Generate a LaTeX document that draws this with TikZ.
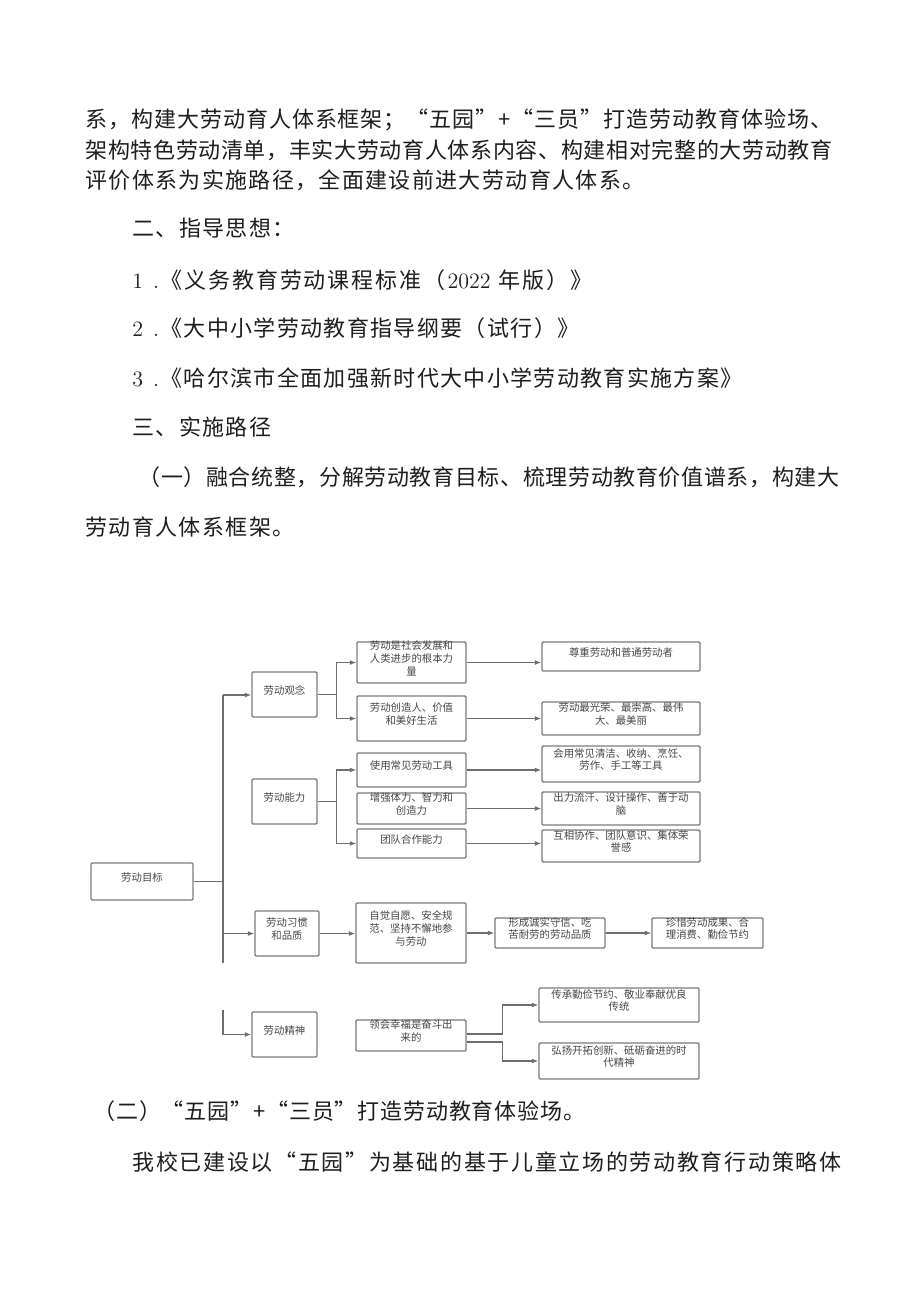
\documentclass[tikz,border=0pt]{standalone}
\usepackage{fontspec}
\newfontfamily\cjk{Noto Sans CJK SC}
\usetikzlibrary{arrows.meta,fit}
\newdimen\px \px=0.5pt
\def\endmark{\end}
\def\sprA#1{#1\sprB}
\def\sprB#1{\def\tmparg{#1}\ifx\tmparg\endmark\else\hfill#1\expandafter\sprB\fi}
\newcommand\bodyf{\cjk\fontsize{11pt}{13pt}\selectfont}
\newcommand\boxf{\cjk\fontsize{5.2pt}{6.4pt}\selectfont}
\newcommand\numf{\rmfamily\fontsize{11pt}{13pt}\selectfont}
\definecolor{boxgray}{HTML}{7C7C7C}
\definecolor{linegray}{HTML}{6E6E6E}
\definecolor{txtgray}{HTML}{464646}
\definecolor{bodyblack}{HTML}{1E1E1E}
\newcommand\tl[5]{\node[anchor=west,inner sep=0pt,text=bodyblack] (#1) at (#2,#3) {\bodyf\makebox[#4\px][s]{\sprA#5\end}};}
\newcommand\nl[4]{\node[anchor=base west,inner sep=0pt,text=bodyblack] (#1) at (#2,#3) {\numf #4};}
\tikzset{
  box/.style={draw=boxgray, line width=0.7pt, rounded corners=0.6pt, inner sep=0pt, align=center, font=\boxf, text=txtgray},
  ln/.style={draw=linegray, line width=0.55pt},
  arr/.style={ln, -{Latex[length=3.2pt,width=2.4pt]}}
}
\begin{document}
\begin{tikzpicture}[x=0.5pt,y=-0.5pt]
\useasboundingbox[fill=white] (0,0) rectangle (920,1301);
% body text
\tl{t1}{85}{120}{747}{系，构建大劳动育人体系框架；“五园”+“三员”打造劳动教育体验场、}
\tl{t2}{85}{150}{747}{架构特色劳动清单，丰实大劳动育人体系内容、构建相对完整的大劳动教育}
\tl{t3}{85}{180}{559}{评价体系为实施路径，全面建设前进大劳动育人体系。}
\tl{t4}{132}{228}{162}{二、指导思想：}
\nl{n1}{132}{288}{1\hspace{5pt}.}
\tl{t5}{160}{280}{432}{《义务教育劳动课程标准（{{\numf 2022\hspace{3pt}}}年版）》}
\nl{n2}{132}{336}{2\hspace{5pt}.}
\tl{t6}{160}{328}{419}{《大中小学劳动教育指导纲要（试行）》}
\nl{n3}{132}{386}{3\hspace{5pt}.}
\tl{t7}{160}{378}{582}{《哈尔滨市全面加强新时代大中小学劳动教育实施方案》}
\tl{t8}{132}{427}{139}{三、实施路径}
\tl{t9}{138}{477}{701}{（一）融合统整，分解劳动教育目标、梳理劳动教育价值谱系，构建大}
\tl{t10}{85}{527}{209}{劳动育人体系框架。}
\tl{t11}{93}{1111}{492}{（二）“五园”+“三员”打造劳动教育体验场。}
\tl{t12}{132}{1162}{709}{我校已建设以“五园”为基础的基于儿童立场的劳动教育行动策略体}
% diagram boxes
\node[box, fit={(91,863) (193,900)}] (goal) {劳动目标};
\node[box, fit={(252,672) (317,717)}] (gn) {劳动观念};
\node[box, fit={(252,779) (317,824)}] (nl) {劳动能力};
\node[box, fit={(255,911) (319,956)}] (xg) {劳动习惯\\和品质};
\node[box, fit={(252,1012) (317,1057)}] (js) {劳动精神};
\node[box, fit={(357,642) (466,683)}] (A1) {劳动是社会发展和\\人类进步的根本力\\量};
\node[box, fit={(357,696) (466,741)}] (A2) {劳动创造人、价值\\和美好生活};
\node[box, fit={(357,753) (466,787)}] (B1) {使用常见劳动工具};
\node[box, fit={(357,793) (466,824)}] (B2) {增强体力、智力和\\创造力};
\node[box, fit={(357,829) (466,858)}] (B3) {团队合作能力};
\node[box, fit={(542,642) (700,671)}] (C1) {尊重劳动和普通劳动者};
\node[box, fit={(542,702) (700,735)}] (C2) {劳动最光荣、最崇高、最伟\\大、最美丽};
\node[box, fit={(542,746) (700,782)}] (C3) {会用常见清洁、收纳、烹饪、\\劳作、手工等工具};
\node[box, fit={(542,792) (700,825)}] (C4) {出力流汗、设计操作、善于动\\脑};
\node[box, fit={(542,830) (700,862)}] (C5) {互相协作、团队意识、集体荣\\誉感};
\node[box, fit={(356,903) (466,963)}] (D1) {自觉自愿、安全规\\范、坚持不懈地参\\与劳动};
\node[box, fit={(495,918) (605,948)}] (D2) {形成诚实守信、吃\\苦耐劳的劳动品质};
\node[box, fit={(652,918) (763,948)}] (D3) {珍惜劳动成果、合\\理消费、勤俭节约};
\node[box, fit={(356,1020) (466,1051)}] (E1) {领会幸福是奋斗出\\来的};
\node[box, fit={(539,988) (699,1022)}] (E2) {传承勤俭节约、敬业奉献优良\\传统};
\node[box, fit={(539,1043) (699,1079)}] (E3) {弘扬开拓创新、砥砺奋进的时\\代精神};
% trunk
\coordinate (tTop) at (223,695);
\coordinate (tBot) at (223,963);
\coordinate (t2Top) at (223,1010);
\draw[ln] (goal.east) -- (goal.east -| tTop);
\draw[ln] (tTop) -- (tBot);
\draw[arr] (tTop) -- (tTop -| gn.west);
\draw[arr] (tTop |- xg.west) -- (xg.west);
\draw[arr] (t2Top) |- (js.west);
% branch concept
\draw[ln] (gn.east) -- ++(19,0) coordinate (j1);
\draw[arr] (j1) |- (A1.west);
\draw[arr] (j1) |- (A2.west);
% branch ability
\draw[ln] (nl.east) -- ++(19,0) coordinate (j2);
\draw[arr] (j2) |- (B1.west);
\draw[arr] (j2) |- (B3.west);
% to column C
\draw[arr] (A1.east) -- (A1.east -| C1.west);
\draw[arr] (A2.east) -- (A2.east -| C2.west);
\draw[arr] (B1.east) -- (B1.east -| C3.west);
\draw[arr] (B2.east) -- (B2.east -| C4.west);
\draw[arr] (B3.east) -- (B3.east -| C5.west);
% habits chain
\draw[arr] (xg.east) -- (xg.east -| D1.west);
\draw[arr] (D1.east) -- (D1.east -| D2.west);
\draw[arr] (D2.east) -- (D3.west);
% spirit branches
\draw[arr] ([yshift=0.75pt]E1.east) -- ++(36,0) |- (E2.west);
\draw[arr] ([yshift=-3.25pt]E1.east) -- ++(36,0) |- (E3.west);
\end{tikzpicture}
\end{document}
